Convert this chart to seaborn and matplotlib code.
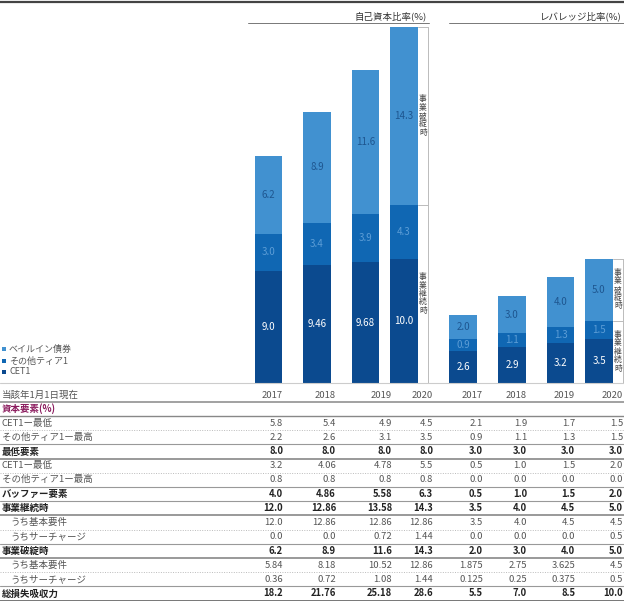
import numpy as np
import pandas as pd
import matplotlib
matplotlib.use("Agg")
import matplotlib.pyplot as plt
import seaborn as sns

# ---------------- data ----------------
years = ["2017", "2018", "2019", "2020"]
cet1_capital = [9.0, 9.46, 9.68, 10.0]
at1_capital = [3.0, 3.4, 3.9, 4.3]
bailin_capital = [6.2, 8.9, 11.6, 14.3]
cet1_leverage = [2.6, 2.9, 3.2, 3.5]
at1_leverage = [0.9, 1.1, 1.3, 1.5]
bailin_leverage = [2.0, 3.0, 4.0, 5.0]

panel_titles = ["自己資本比率(%)", "レバレッジ比率(%)"]
legend_labels = ["ベイルイン債券", "その他ティア1", "CET1"]
bracket_labels = ["事業破綻時", "事業継続時"]

table_header = "当該年1月1日現在"
table_section = "資本要素(%)"
row_labels = ["CET1ー最低", "その他ティア1ー最高", "最低要素", "CET1ー最低",
              "その他ティア1ー最高", "バッファー要素", "事業継続時", "うち基本要件",
              "うちサーチャージ", "事業破綻時", "うち基本要件", "うちサーチャージ",
              "総損失吸収力"]
row_bold = [False, False, True, False, False, True, True, False, False, True,
            False, False, True]
row_indent = [False, False, False, False, False, False, False, True, True,
              False, True, True, False]
row_values = [
    ["5.8", "5.4", "4.9", "4.5", "2.1", "1.9", "1.7", "1.5"],
    ["2.2", "2.6", "3.1", "3.5", "0.9", "1.1", "1.3", "1.5"],
    ["8.0", "8.0", "8.0", "8.0", "3.0", "3.0", "3.0", "3.0"],
    ["3.2", "4.06", "4.78", "5.5", "0.5", "1.0", "1.5", "2.0"],
    ["0.8", "0.8", "0.8", "0.8", "0.0", "0.0", "0.0", "0.0"],
    ["4.0", "4.86", "5.58", "6.3", "0.5", "1.0", "1.5", "2.0"],
    ["12.0", "12.86", "13.58", "14.3", "3.5", "4.0", "4.5", "5.0"],
    ["12.0", "12.86", "12.86", "12.86", "3.5", "4.0", "4.5", "4.5"],
    ["0.0", "0.0", "0.72", "1.44", "0.0", "0.0", "0.0", "0.5"],
    ["6.2", "8.9", "11.6", "14.3", "2.0", "3.0", "4.0", "5.0"],
    ["5.84", "8.18", "10.52", "12.86", "1.875", "2.75", "3.625", "4.5"],
    ["0.36", "0.72", "1.08", "1.44", "0.125", "0.25", "0.375", "0.5"],
    ["18.2", "21.76", "25.18", "28.6", "5.5", "7.0", "8.5", "10.0"],
]

# ---------------- layout / style ----------------
W, H = 624, 601
BASE_Y = 383           # pixel row of bar baseline
PX_PER_UNIT = 12.45
bar_x = [268.5, 317, 365.5, 404, 463, 512, 560.5, 599]   # bar centres (px)
BAR_W = 27.5
col_right = [283, 336, 392, 433, 483, 527, 575, 623]     # table column right edges

C_LIGHT = "#4191D0"
C_MID = "#1067B3"
C_DARK = "#0B4A8F"
TXT_LIGHT = "#1E5690"
TXT_MID = "#5C9DD6"
GREY_TXT = "#555555"
PURPLE = "#8B1C5E"

sns.set_theme(style="white")
plt.rcParams["font.family"] = ["Noto Sans CJK JP", "DejaVu Sans"]

fig = plt.figure(figsize=(W / 100, H / 100), dpi=100)
fig.patch.set_facecolor("white")

# chart axes: x in pixels, y in percent units
ax = fig.add_axes([0, 1 - BASE_Y / H, 1, BASE_Y / H])
ax.set_facecolor("none")

cet1 = np.array(cet1_capital + cet1_leverage)
at1 = np.array(at1_capital + at1_leverage)
bail = np.array(bailin_capital + bailin_leverage)
df = pd.DataFrame({
    "x": np.array(bar_x, dtype=float),
    "total": cet1 + at1 + bail,
    "mid": cet1 + at1,
    "cet1": cet1,
})
min_gap = np.min(np.diff(np.unique(df["x"])))
for col, colr in [("total", C_LIGHT), ("mid", C_MID), ("cet1", C_DARK)]:
    sns.barplot(data=df, x="x", y=col, native_scale=True, width=BAR_W / min_gap,
                color=colr, saturation=1, errorbar=None, linewidth=0, ax=ax)

ax.set_xlim(0, W)
ax.set_ylim(0, BASE_Y / PX_PER_UNIT)
ax.axis("off")


def fmt(v):
    return f"{v:.1f}" if abs(v * 10 - round(v * 10)) < 1e-9 else f"{v:.2f}"


for i, x in enumerate(bar_x):
    c, a, b = cet1[i], at1[i], bail[i]
    ax.text(x, c / 2, fmt(c), ha="center", va="center", fontsize=7, color="white")
    ax.text(x, c + a / 2, fmt(a), ha="center", va="center", fontsize=7, color=TXT_MID)
    ax.text(x, c + a + b / 2, fmt(b), ha="center", va="center", fontsize=7, color=TXT_LIGHT)

# brackets beside the 2020 bars
for idx, line_x in [(3, 428), (7, 623)]:
    right = bar_x[idx] + BAR_W / 2
    top = cet1[idx] + at1[idx] + bail[idx]
    mid = cet1[idx] + at1[idx]
    ax.plot([line_x, line_x], [0, top], color="#BBBBBB", lw=0.7)
    for yv in (top, mid):
        ax.plot([right, line_x], [yv, yv], color="#BBBBBB", lw=0.7)
    tx = (right + line_x) / 2
    ax.text(tx, (top + mid) / 2, "\n".join(bracket_labels[0]), ha="center", va="center",
            fontsize=5.6, linespacing=1.05, color="#444444")
    ax.text(tx, mid / 2, "\n".join(bracket_labels[1]), ha="center", va="center",
            fontsize=5.6, linespacing=1.05, color="#444444")

# overlay axes in pixel coordinates for titles, legend and table
ov = fig.add_axes([0, 0, 1, 1])
ov.set_xlim(0, W)
ov.set_ylim(H, 0)
ov.axis("off")
ov.set_facecolor("none")

ov.plot([0, W], [1.5, 1.5], color="#444444", lw=1.6)
ov.text(427, 16, panel_titles[0], ha="right", va="center", fontsize=6.8, color="#333333")
ov.plot([248, 429], [23, 23], color="#777777", lw=0.7)
ov.text(622, 16, panel_titles[1], ha="right", va="center", fontsize=6.8, color="#333333")
ov.plot([449, 624], [23, 23], color="#777777", lw=0.7)

# legend
for (lab, colr), yy in zip(zip(legend_labels, [C_LIGHT, C_MID, C_DARK]), [349, 361, 372]):
    ov.scatter([4], [yy], marker="s", s=6, color=colr, linewidths=0)
    ov.text(9, yy, lab, ha="left", va="center", fontsize=6.5, color=GREY_TXT)

# baseline
ov.plot([0, W], [BASE_Y, BASE_Y], color="#CCCCCC", lw=0.8)

# table header
ov.text(2, 395, table_header, ha="left", va="center", fontsize=6.8, color=GREY_TXT)
for yr, xr in zip(years + years, col_right):
    ov.text(xr, 395, yr, ha="right", va="center", fontsize=6.8, color=GREY_TXT)
ov.plot([0, W], [402, 402], color="#888888", lw=1.1)
ov.text(2, 409, table_section, ha="left", va="center", fontsize=6.8, color=PURPLE,
        fontweight="bold")
ov.plot([0, W], [415.5, 415.5], color="#888888", lw=1.0)

PITCH = 14.2
y0 = 423
for k, (lab, bold, ind, vals) in enumerate(zip(row_labels, row_bold, row_indent, row_values)):
    yy = y0 + k * PITCH
    colr = "#222222" if bold else GREY_TXT
    wt = "bold" if bold else "normal"
    ov.text(10 if ind else 2, yy, lab, ha="left", va="center", fontsize=6.8,
            color=colr, fontweight=wt)
    for v, xr in zip(vals, col_right):
        ov.text(xr, yy, v, ha="right", va="center", fontsize=6.8, color=colr,
                fontweight=wt)
    ly = yy + PITCH / 2
    nxt_bold = row_bold[k + 1] if k + 1 < len(row_bold) else True
    if k == len(row_labels) - 1:
        ov.plot([0, W], [ly, ly], color="#777777", lw=1.4)
    elif bold and not nxt_bold:
        ov.plot([0, W], [ly, ly], color="#888888", lw=1.2)
    elif bold or nxt_bold:
        ov.plot([0, W], [ly, ly], color="#999999", lw=0.8)
    else:
        ov.plot([0, W], [ly, ly], color="#BBBBBB", lw=0.7, linestyle=(0, (1, 1.5)))

fig.savefig("out.png", dpi=100, facecolor="white")
